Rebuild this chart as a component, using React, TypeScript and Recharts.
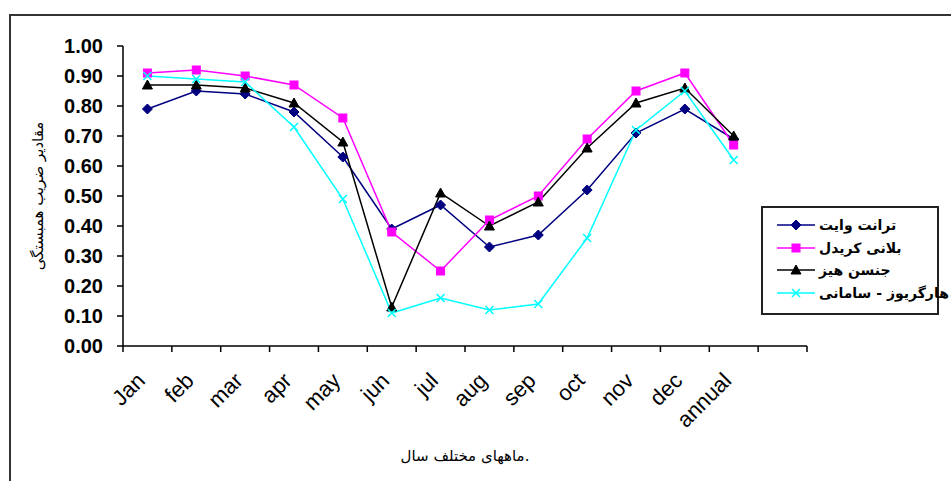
import React from "react";
import { LineChart, Line, XAxis, YAxis, Label } from "recharts";

const months = ["Jan", "feb", "mar", "apr", "may", "jun", "jul", "aug", "sep", "oct", "nov", "dec", "annual"];
const thornthwaite = [0.79, 0.85, 0.84, 0.78, 0.63, 0.39, 0.47, 0.33, 0.37, 0.52, 0.71, 0.79, 0.69];
const blaneyCriddle = [0.91, 0.92, 0.9, 0.87, 0.76, 0.38, 0.25, 0.42, 0.5, 0.69, 0.85, 0.91, 0.67];
const jensenHaise = [0.87, 0.87, 0.86, 0.81, 0.68, 0.13, 0.51, 0.4, 0.48, 0.66, 0.81, 0.86, 0.7];
const hargreavesSamani = [0.9, 0.89, 0.88, 0.73, 0.49, 0.11, 0.16, 0.12, 0.14, 0.36, 0.72, 0.85, 0.62];
const yTicks = [0, 0.1, 0.2, 0.3, 0.4, 0.5, 0.6, 0.7, 0.8, 0.9, 1];

const series = [
  { key: "tw", name: "ترانت وایت", color: "#000080", marker: "diamond", values: thornthwaite },
  { key: "bc", name: "بلانی کریدل", color: "#FF00FF", marker: "square", values: blaneyCriddle },
  { key: "jh", name: "جنسن هیز", color: "#000000", marker: "triangle", values: jensenHaise },
  { key: "hs", name: "هارگریوز - سامانی", color: "#00FFFF", marker: "cross", values: hargreavesSamani },
];

// excel leaves one empty slot after "annual"
const data = [...months, ""].map((m, i) => {
  const row: any = { month: m };
  series.forEach((s) => {
    row[s.key] = i < s.values.length ? s.values[i] : null;
  });
  return row;
});

function marker(shape: string, color: string, cx: number, cy: number, key?: any) {
  if (shape === "diamond") {
    return <path key={key} d={`M${cx},${cy - 5}L${cx + 5},${cy}L${cx},${cy + 5}L${cx - 5},${cy}Z`} fill={color} stroke={color} />;
  }
  if (shape === "square") {
    return <rect key={key} x={cx - 4} y={cy - 4} width={8} height={8} fill={color} stroke={color} />;
  }
  if (shape === "triangle") {
    return <path key={key} d={`M${cx},${cy - 5}L${cx + 5},${cy + 4}L${cx - 5},${cy + 4}Z`} fill={color} stroke={color} />;
  }
  return (
    <path key={key} d={`M${cx - 4},${cy - 4}L${cx + 4},${cy + 4}M${cx - 4},${cy + 4}L${cx + 4},${cy - 4}`} stroke={color} strokeWidth={1.5} fill="none" />
  );
}

const dotFor = (shape: string, color: string) => (props: any) => {
  const { cx, cy, index, value } = props;
  if (cx == null || cy == null || value == null) return <g key={index} />;
  return marker(shape, color, cx, cy, index);
};

// label at the band centre, tick mark on the band edge (excel style)
const MonthTick = (props: any) => {
  const { x, y, payload, width } = props;
  const half = payload.offset ? payload.offset : width / data.length / 2;
  const tx = x - 1;
  const ty = y + 36;
  const isLast = payload.value === "" || payload.index === data.length - 1;
  return (
    <g>
      <line x1={x - half} y1={y} x2={x - half} y2={y + 6} stroke="#000" strokeWidth={1.5} />
      {isLast && <line x1={x + half} y1={y} x2={x + half} y2={y + 6} stroke="#000" strokeWidth={1.5} />}
      <text
        x={tx}
        y={ty}
        transform={`rotate(-45 ${tx} ${ty})`}
        textAnchor="end"
        fontSize={22}
        fontFamily="'Liberation Sans', Arial, sans-serif"
        fill="#000"
      >
        {payload.value}
      </text>
    </g>
  );
};

export default function App() {
  return (
    <div style={{ position: "absolute", left: 0, top: 0, width: 951, height: 481, overflow: "hidden", background: "#fff" }}>
      <div
        style={{
          position: "absolute",
          left: 9,
          top: 14,
          width: 1000,
          height: 600,
          border: "2px solid #333",
        }}
      />
      <div style={{ position: "absolute", left: 0, top: 0 }}>
        <LineChart width={951} height={481} data={data} margin={{ top: 46, right: 144, left: 0, bottom: 134 }}>
          <XAxis
            dataKey="month"
            scale="band"
            height={1}
            axisLine={{ stroke: "#000", strokeWidth: 1.5 }}
            tickLine={false}
            tickSize={0}
            tickMargin={0}
            interval={0}
            tick={<MonthTick />}
          />
          <YAxis
            width={123}
            domain={[0, 1]}
            ticks={yTicks}
            interval={0}
            tickFormatter={(v: number) => v.toFixed(2)}
            tickSize={6}
            tickMargin={14}
            axisLine={{ stroke: "#000", strokeWidth: 1.5 }}
            tickLine={{ stroke: "#000", strokeWidth: 1.5 }}
            tick={{ fill: "#000", fontSize: 20, fontWeight: "bold", fontFamily: "'Liberation Sans', Arial, sans-serif" }}
          >
            <Label
              value="مقادیر ضریب همبستگی"
              angle={-90}
              position="insideLeft"
              offset={38}
              style={{ textAnchor: "middle", fontSize: 15, fontFamily: "'DejaVu Sans', sans-serif", fill: "#000" }}
            />
          </YAxis>
          {series.map((s) => (
            <Line
              key={s.key}
              dataKey={s.key}
              name={s.name}
              stroke={s.color}
              strokeWidth={1.5}
              type="linear"
              dot={dotFor(s.marker, s.color)}
              activeDot={false}
              isAnimationActive={false}
            />
          ))}
        </LineChart>
      </div>
      <div
        style={{
          position: "absolute",
          left: 330,
          width: 270,
          top: 447,
          textAlign: "center",
          fontFamily: "'DejaVu Sans', sans-serif",
          fontSize: 15,
          color: "#000",
        }}
      >
        ماههای مختلف سال.
      </div>
      <div
        style={{
          position: "absolute",
          left: 761,
          top: 206,
          width: 174,
          height: 99,
          border: "2px solid #222",
          background: "#fff",
          paddingTop: 6,
          boxSizing: "content-box",
        }}
      >
        {series.map((s) => (
          <div key={s.key} style={{ display: "flex", alignItems: "center", height: 22.5, marginLeft: 14 }}>
            <svg width={38} height={12} style={{ flex: "none" }}>
              <line x1={0} y1={6} x2={38} y2={6} stroke={s.color} strokeWidth={1.5} />
              {marker(s.marker, s.color, 19, 6)}
            </svg>
            <span
              style={{
                marginLeft: 4,
                fontFamily: "'DejaVu Sans', sans-serif",
                fontWeight: "bold",
                fontSize: 14,
                color: "#000",
                whiteSpace: "nowrap",
              }}
            >
              {s.name}
            </span>
          </div>
        ))}
      </div>
    </div>
  );
}
